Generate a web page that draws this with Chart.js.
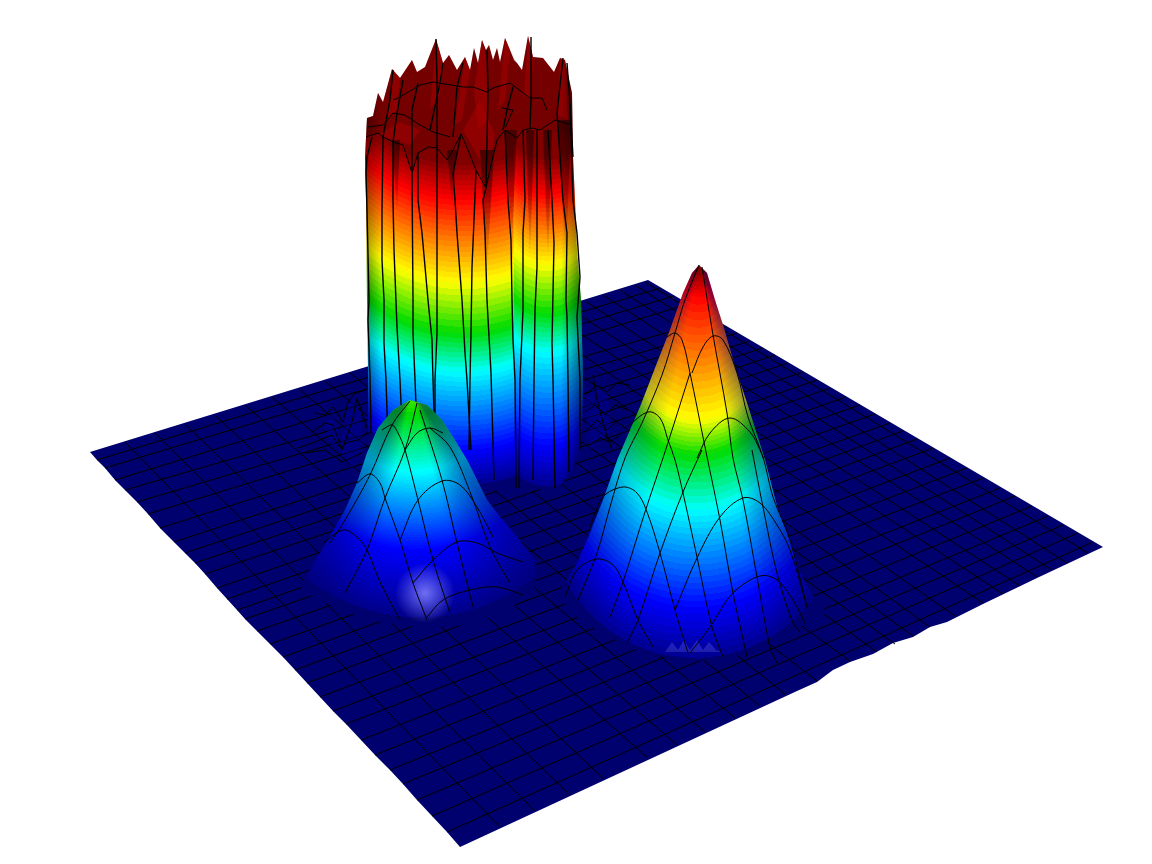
<!DOCTYPE html>
<html>
<head>
<meta charset="utf-8">
<style>
  html, body { margin: 0; padding: 0; background: #fff; }
</style>
<script src="https://cdn.jsdelivr.net/npm/chart.js@4"></script>
</head>
<body>
<canvas id="surface" width="1152" height="864"></canvas>
<script>
var leftEdgeTicks = [[97,460],[105,468],[115,480],[125,490],[137,502],[148,514],[160,528],[174,542],[185,553],[195,563],[205,574],[217,588],[227,599],[237,610],[245,619],[257,631],[270,644],[283,657],[295,670],[307,683],[320,697],[333,711],[346,724],[361,740],[375,755],[390,770],[403,784],[417,800],[432,816],[447,832]];
var rightEdgeTicks = [[660,288],[674,296],[688,304],[713,319],[727,327],[737,333],[750,341],[763,348],[775,355],[788,363],[803,372],[817,380],[830,388],[846,397],[860,405],[875,414],[890,423],[903,431],[917,439],[933,448],[950,458],[967,468],[983,478],[1000,488],[1015,496],[1032,506],[1048,516],[1063,525],[1078,533],[1093,542]];
var backEdgeTicks = [[125,442],[155,433],[185,424],[215,415],[245,405],[272,397],[299,389],[325,381],[350,373],[375,365],[398,358],[421,351],[444,344],[467,337],[490,330],[510,324],[530,318],[548,312],[566,306],[585,301],[603,295],[620,290],[635,285],[645,282]];
var frontEdgeTicks = [[500,827],[535,811],[570,795],[604,779],[648,758],[677,745],[705,732],[735,718],[760,706],[785,694],[817,681],[850,661],[877,652],[895,644],[913,636],[930,627],[955,616],[983,603],[1003,594],[1020,586],[1037,577],[1052,570],[1067,563],[1088,553]];
var floorOutline = [[90,452],[648,280],[1103,547],[1037,578],[983,604],[947,622],[930,627],[913,637],[893,643],[873,654],[850,662],[833,670],[817,682],[797,691],[460,847]].concat(leftEdgeTicks.slice().reverse());

// ripples on the floor around the tower foot
var rippleShapes = [
  [[340,450],[348,405],[356,395],[364,440],[352,470]],
  [[325,425],[333,410],[342,450],[332,445]],
  [[584,400],[597,385],[607,392],[612,430],[590,450]]
];
var rippleLines = [
  [[315,413],[325,415],[333,407],[343,422],[348,402],[355,393],[366,390]],
  [[312,432],[325,423],[333,425],[342,450],[352,422],[357,398],[367,428]],
  [[298,448],[315,442],[332,435],[340,448],[348,442],[358,440],[368,432]],
  [[305,453],[325,450],[342,462],[362,453]],
  [[585,395],[597,385],[607,392],[617,383],[630,385]],
  [[585,412],[595,405],[605,415],[615,405],[628,410]],
  [[587,430],[597,420],[607,430],[618,420]],
  [[590,445],[600,438],[610,442],[620,435]],
  [[593,375],[597,400],[605,430],[612,450]]
];

// tower, split at the seam in its front wall
var towerLeft = [[368,430],[368,370],[367,300],[366,200],[365,157],[367,118],[373,116],[378,93],[383,102],[392,69],[400,78],[412,60],[417,72],[425,67],[436,39],[443,63],[449,55],[457,70],[465,57],[470,70],[474,48],[478,63],[482,40],[486,50],[489,45],[493,60],[497,48],[500,62],[505,38],[510,50],[514,60],[514,200],[513,340],[515,380],[515,490],[503,492],[490,490],[477,480],[440,470],[400,450]];
var towerRight = [[514,60],[517,63],[522,70],[528,36],[533,57],[543,58],[554,72],[560,58],[565,60],[572,93],[573,157],[575,200],[577,250],[581,300],[583,380],[582,430],[580,450],[572,470],[560,486],[548,492],[537,488],[530,492],[522,490],[515,490],[515,380],[513,340],[514,200]];
var towerTop = [[365,157],[367,118],[373,116],[378,93],[383,102],[392,69],[400,78],[412,60],[417,72],[425,67],[436,39],[443,63],[449,55],[457,70],[465,57],[470,70],[474,48],[478,63],[482,40],[486,50],[489,45],[493,60],[497,48],[500,62],[505,38],[510,50],[517,63],[522,70],[528,36],[533,57],[543,58],[554,72],[560,58],[565,60],[572,93],[573,135],[540,130],[523,130],[505,130],[491,165],[486,188],[476,170],[468,150],[461,134],[452,152],[447,160],[437,148],[418,153],[412,173],[403,145],[393,142],[378,133],[366,137]];
var towerFacets = [
  [[392,69],[400,78],[397,110],[388,118]],
  [[436,39],[443,63],[440,95],[430,110]],
  [[465,57],[470,70],[462,120],[455,125]],
  [[482,40],[486,60],[488,120],[478,130],[474,90]],
  [[505,38],[510,50],[505,100],[498,110]],
  [[528,36],[533,57],[531,100],[524,95]],
  [[560,58],[565,60],[568,120],[558,115]],
  [[372,138],[400,122],[420,130],[410,145],[380,135]],
  [[463,130],[480,100],[495,135],[488,175]]
];
var towerStreaks = [
  [[480,150],[494,150],[487,268]],
  [[505,130],[517,130],[512,240]],
  [[526,130],[534,130],[530,262]],
  [[543,130],[552,130],[548,262]],
  [[557,120],[571,120],[566,258]],
  [[392,140],[400,140],[397,215]],
  [[447,150],[457,150],[452,205]]
];
var towerRibs = [
  [[372,137],[367,157],[366,173],[367,210],[369,300],[368,320],[370,377],[371,432]],
  [[383,137],[382,210],[382,260],[384,300],[384,343],[386,380],[388,442]],
  [[393,142],[393,200],[394,250],[397,327],[400,380],[403,450]],
  [[412,173],[413,300],[413,333],[415,380],[416,405]],
  [[418,153],[418,200],[422,233],[428,300],[432,340],[433,380],[434,412]],
  [[437,148],[437,250],[437,333],[435,380],[435,415]],
  [[461,134],[453,173],[455,200],[457,233],[462,300],[465,353],[467,380],[471,450]],
  [[476,170],[474,220],[472,267],[471,333],[470,380],[469,450]],
  [[486,188],[483,200],[485,233],[487,300],[491,373],[494,480]],
  [[505,130],[508,200],[511,240],[512,300],[513,340],[515,380],[516,488]],
  [[523,130],[525,200],[523,233],[523,310],[520,380],[519,488]],
  [[537,130],[537,267],[535,310],[534,380],[533,480]],
  [[548,130],[552,200],[554,243],[552,343],[553,380],[555,488]],
  [[557,113],[563,200],[567,233],[566,300],[567,317],[568,380],[569,472]],
  [[570,103],[573,200],[577,233],[580,277],[577,317],[580,380],[580,450]],
  [[436,39],[437,82],[437,148]],
  [[487,50],[488,90],[486,188]],
  [[531,37],[531,98],[530,128]],
  [[563,58],[557,113]],
  [[418,83],[412,110],[412,173]],
  [[443,63],[440,83],[430,130]],
  [[463,63],[457,87],[453,137]],
  [[513,87],[507,110],[503,130]],
  [[567,63],[570,103],[573,157]],
  [[393,70],[390,100],[383,137]],
  [[403,80],[397,113],[393,142]]
];
var towerRims = [
  [[366,137],[372,135],[378,133],[383,137],[393,142],[403,145],[412,173],[418,153],[428,147],[437,148],[447,160],[452,152],[461,134],[468,150],[476,170],[486,188],[491,165],[497,140],[505,130],[517,138],[523,130],[533,128],[540,130],[555,120],[572,125]],
  [[368,127],[383,125],[393,113],[405,115],[420,125],[433,132],[450,137]],
  [[502,108],[513,110],[505,128]],
  [[393,100],[398,98],[420,85],[433,82],[463,87],[473,87],[487,92],[493,88],[510,83],[530,98],[542,98],[547,110]]
];

// rounded hill, front left
var hillOutline = [[300,590],[312,565],[325,545],[337,524],[345,510],[357,483],[367,453],[378,428],[393,410],[410,400],[427,405],[442,420],[453,437],[467,460],[477,480],[487,500],[500,517],[517,537],[535,560],[535,585],[510,610],[470,625],[420,628],[370,620],[330,605]];
var hillGlow = [[393,593],[402,571],[425,561],[448,571],[457,593],[448,615],[425,625],[402,615]];
var hillLines = [
  [[410,401],[392,425],[370,475],[345,520],[330,543]],
  [[417,403],[405,450],[385,498],[367,550],[345,593]],
  [[420,410],[442,480],[457,543],[473,607]],
  [[430,428],[450,447],[472,497],[490,547],[510,583]],
  [[382,430],[392,425],[398,433],[405,450],[418,500],[433,560],[450,613]],
  [[405,450],[417,433],[430,428],[443,433]],
  [[357,483],[370,474],[380,483],[385,498],[400,540],[413,583],[427,620]],
  [[400,540],[418,500],[442,481],[460,485],[477,507],[493,537]],
  [[323,543],[343,530],[357,537],[367,550],[380,582],[400,620]],
  [[413,583],[433,560],[457,542],[477,543],[497,553],[523,562]],
  [[427,617],[443,600],[470,590],[497,587],[523,595]]
];

// pointed hill, front right
var coneOutline = [[560,590],[567,580],[577,563],[590,533],[603,500],[618,458],[640,407],[657,363],[670,330],[683,293],[692,273],[699,265],[707,273],[715,300],[723,325],[735,367],[747,403],[765,460],[778,510],[790,540],[800,573],[813,597],[827,612],[790,632],[740,655],[690,662],[640,652],[600,632],[570,612]];
var coneSpikes = [[665,652],[672,642],[678,650],[684,640],[690,650],[697,640],[703,650],[709,642],[716,650],[722,652]];
var coneLines = [
  [[699,265],[685,300],[675,333],[662,375],[642,423],[625,458],[610,507],[597,553],[578,600]],
  [[702,267],[713,335],[727,413],[733,458],[743,500],[757,577],[770,647],[777,663]],
  [[667,337],[675,333],[682,340],[690,373],[705,447],[720,520],[733,593],[747,657]],
  [[692,373],[703,347],[713,336],[723,340],[737,373],[748,417],[763,457],[773,497],[790,540],[807,607]],
  [[690,373],[673,427],[663,458],[645,512],[623,582],[610,617]],
  [[627,427],[648,412],[660,418],[668,440],[675,460],[683,493],[697,557],[712,627],[723,657]],
  [[697,458],[710,433],[730,418],[750,432],[760,450],[764,460]],
  [[702,450],[683,492],[660,553],[638,620],[627,643]],
  [[752,450],[763,507],[777,573],[793,623],[800,632]],
  [[590,527],[603,497],[623,487],[637,493],[647,512],[660,553],[675,610],[688,653]],
  [[565,597],[577,570],[597,559],[613,565],[623,582],[638,620],[653,647]],
  [[675,610],[697,558],[720,517],[743,498],[760,503],[777,525],[790,550],[807,607]],
  [[690,653],[710,627],[733,593],[760,576],[777,580],[793,600],[805,623]]
];

// colour level -> colour, and -> height on the centre line of each shape
var colourLevels = [0, 0.125, 0.375, 0.5, 0.625, 0.875, 1];
var levelColors = [[0,0,127],[0,0,255],[0,255,255],[0,220,0],[255,255,0],[255,0,0],[120,0,0]];
var towerHeights = [490, 450, 372, 333, 283, 200, 160];
var towerRightHeights = [492, 445, 352, 313, 265, 195, 155];
var coneHeights = [665, 607, 510, 455, 420, 297, 268];
var hillLevels = [0, 0.125, 0.375, 0.5, 0.53];
var hillHeights = [622, 550, 472, 415, 400];

var floorColor = '#00006e';
var steps = 64;

function bandColor(v) {
  for (var i = 1; i < colourLevels.length; i++) {
    if (v <= colourLevels[i]) {
      var f = (v - colourLevels[i - 1]) / (colourLevels[i] - colourLevels[i - 1]);
      var a = levelColors[i - 1], b = levelColors[i];
      return 'rgb(' + Math.round(a[0] + f * (b[0] - a[0])) + ',' + Math.round(a[1] + f * (b[1] - a[1])) + ',' + Math.round(a[2] + f * (b[2] - a[2])) + ')';
    }
  }
  return 'rgb(120,0,0)';
}

function heightOf(v, levels, heights) {
  for (var i = 1; i < levels.length; i++) {
    if (v <= levels[i]) {
      return heights[i - 1] + (v - levels[i - 1]) / (levels[i] - levels[i - 1]) * (heights[i] - heights[i - 1]);
    }
  }
  return heights[heights.length - 1];
}

// scriptable colours get asked once before the scales have a size
function whenReady(make) {
  return function(ctx) {
    if (!ctx.chart.chartArea) return 'transparent';
    return make(ctx.chart, ctx.chart.ctx, ctx.chart.scales.x, ctx.chart.scales.y);
  };
}

// stepped bands bent into arcs, the way the contours wrap round each shape
function bands(levels, heights, x0, r0, x1, r1) {
  return whenReady(function(chart, c, sx, sy) {
    var yb = heights[0], yt = heights[heights.length - 1];
    var g = c.createRadialGradient(
      sx.getPixelForValue(x0), sy.getPixelForValue(yb - r0), r0,
      sx.getPixelForValue(x1), sy.getPixelForValue(yt - r1), r1);
    var top = levels[levels.length - 1];
    for (var i = 0; i < steps; i++) {
      var a = i / steps * top, b = (i + 1) / steps * top;
      var col = i === 0 ? floorColor : bandColor((a + b) / 2);
      g.addColorStop((yb - heightOf(a, levels, heights)) / (yb - yt), col);
      g.addColorStop((yb - heightOf(b, levels, heights)) / (yb - yt), col);
    }
    return g;
  });
}

// blends the flanks of a hill toward the floor colour, angles clockwise from straight up
function flanks(cx, cy, stops) {
  return whenReady(function(chart, c, sx, sy) {
    var g = c.createConicGradient(-Math.PI / 2, sx.getPixelForValue(cx), sy.getPixelForValue(cy));
    stops.forEach(function(s) { g.addColorStop(s[0], 'rgba(0,0,110,' + s[1] + ')'); });
    return g;
  });
}

var towerSides = whenReady(function(chart, c, sx) {
  var g = c.createLinearGradient(sx.getPixelForValue(366), 0, sx.getPixelForValue(583), 0);
  g.addColorStop(0, 'rgba(0,0,0,0.35)');
  g.addColorStop(0.07, 'rgba(0,0,0,0)');
  g.addColorStop(0.9, 'rgba(0,0,0,0)');
  g.addColorStop(1, 'rgba(0,0,0,0.5)');
  return g;
});

var datasets = [];

function toXY(points) {
  return points.map(function(p) { return {x: p[0], y: p[1]}; });
}

function shape(points, fillStyle) {
  datasets.push({
    data: toXY(points), showLine: true, fill: 'shape', backgroundColor: fillStyle,
    borderWidth: 0, borderColor: 'transparent', pointRadius: 0, tension: 0
  });
}

function line(points, width, bend) {
  datasets.push({
    data: toXY(points), showLine: true, fill: false, borderWidth: width,
    borderColor: '#000', pointRadius: 0, tension: bend || 0
  });
}

// painter's order: back to front
shape(floorOutline, floorColor);
leftEdgeTicks.forEach(function(p, i) { line([p, rightEdgeTicks[i]], 1); });
backEdgeTicks.forEach(function(p, i) { line([p, frontEdgeTicks[i]], 1); });
rippleShapes.forEach(function(s) { shape(s, 'rgba(0,0,170,0.3)'); });
rippleLines.forEach(function(l) { line(l, 1); });

shape(towerLeft, bands(colourLevels, towerHeights, 463, 150, 463, 150));
shape(towerRight, bands(colourLevels, towerRightHeights, 547, 45, 547, 45));
shape(towerTop, 'rgba(45,0,0,0.15)');
towerFacets.forEach(function(s) { shape(s, 'rgba(170,0,0,0.5)'); });
towerStreaks.forEach(function(s) {
  shape(s, whenReady(function(chart, c, sx, sy) {
    var g = c.createLinearGradient(0, sy.getPixelForValue(s[0][1]), 0, sy.getPixelForValue(s[2][1]));
    g.addColorStop(0, 'rgba(40,0,0,0.65)');
    g.addColorStop(1, 'rgba(40,0,0,0)');
    return g;
  }));
});
shape(towerLeft, towerSides);
shape(towerRight, towerSides);
towerRims.forEach(function(l) { line(l, 1); });
towerRibs.forEach(function(l) { line(l, 1.4); });

shape(hillOutline, bands(hillLevels, hillHeights, 420, 190, 410, 40));
shape(hillOutline, flanks(412, 390, [[0.408, 0.45], [0.461, 0], [0.533, 0], [0.58, 0.4]]));
shape(hillGlow, whenReady(function(chart, c, sx, sy) {
  var px = sx.getPixelForValue(425), py = sy.getPixelForValue(593);
  var g = c.createRadialGradient(px, py, 0, px, py, 30);
  g.addColorStop(0, 'rgba(130,130,255,0.85)');
  g.addColorStop(1, 'rgba(130,130,255,0)');
  return g;
}));
hillLines.forEach(function(l) { line(l, 1, 0.35); });

shape(coneOutline, bands(colourLevels, coneHeights, 695, 150, 699, 6));
shape(coneOutline, flanks(700, 262, [[0.447, 0.45], [0.475, 0], [0.533, 0], [0.564, 0.3]]));
shape(coneSpikes, 'rgba(140,140,255,0.22)');
coneLines.forEach(function(l) { line(l, 1, 0.35); });

// chart.js paints the first dataset last
datasets.reverse();

new Chart(document.getElementById('surface').getContext('2d'), {
  type: 'scatter',
  data: {datasets: datasets},
  options: {
    responsive: false,
    animation: false,
    events: [],
    layout: {padding: 0},
    plugins: {legend: {display: false}, tooltip: {enabled: false}},
    scales: {
      x: {type: 'linear', min: 0, max: 1152, display: false},
      y: {type: 'linear', min: 0, max: 864, reverse: true, display: false}
    }
  }
});
</script>
</body>
</html>
